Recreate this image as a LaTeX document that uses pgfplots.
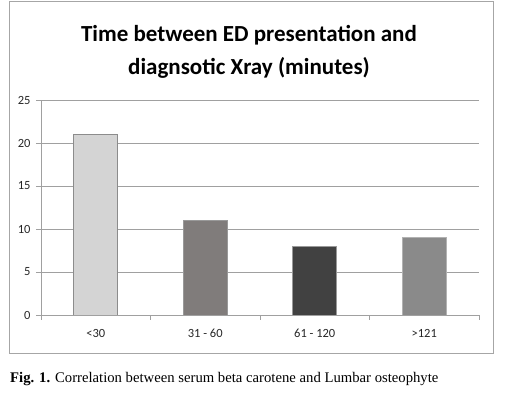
\documentclass[border=0pt]{standalone}
\usepackage{pgfplots}
\pgfplotsset{compat=1.18}
\usepackage{fontspec}
\setmainfont{Carlito}
\newfontfamily\timesfont{Liberation Serif}
\definecolor{barA}{HTML}{D4D4D4}
\definecolor{barB}{HTML}{807C7B}
\definecolor{barC}{HTML}{414141}
\definecolor{barD}{HTML}{8A8A8A}
\definecolor{gridc}{HTML}{A0A0A0}
\begin{document}
\begin{tikzpicture}[x=1pt,y=1pt]
\path[use as bounding box] (0,0) rectangle (506,393);
\draw[gray!70, line width=0.8pt] (9.5,393-353) rectangle (493,391.5);
\node[font=\fontsize{23}{33}\selectfont\bfseries, align=center] at (249,393-52) {Time between ED presentation and\\diagnsotic Xray (minutes)};
\begin{axis}[
  at={(41pt,78pt)}, anchor=south west,
  scale only axis, width=438pt, height=215pt,
  xmin=-0.5, xmax=3.5, ymin=0, ymax=25,
  ytick={0,5,...,25},
  xtick={0,1,2,3},
  xticklabels={{<30},{31 - 60},{61 - 120},{>121}},
  minor xtick={-0.5,0.5,1.5,2.5,3.5},
  major x tick style={draw=none},
  tick align=outside,
  major tick length=5pt, minor tick length=5pt,
  tick style={gridc, line width=0.8pt},
  axis x line*=bottom, axis y line*=left,
  axis line style={gridc, line width=0.8pt, -},
  ymajorgrids, grid style={gridc, line width=0.8pt},
  /pgf/number format/assume math mode=true,
  tick label style={font=\fontsize{12.5}{14}\selectfont, text=black!85},
  xticklabel style={yshift=-6pt},
  yticklabel style={xshift=-2pt},
  bar width=44pt,
  ybar, bar shift=0pt,
]
\addplot[fill=barA, draw=black!45, line width=0.6pt] coordinates {(0,21)};
\addplot[fill=barB, draw=black!40, line width=0.6pt] coordinates {(1,11)};
\addplot[fill=barC, draw=black!40, line width=0.6pt] coordinates {(2,8)};
\addplot[fill=barD, draw=black!30, line width=0.6pt] coordinates {(3,9)};
\end{axis}
\node[anchor=base west, font=\timesfont\fontsize{14.7}{17}\selectfont, inner sep=0pt] at (10,393-383) {\textbf{Fig. 1.} Correlation between serum beta carotene and Lumbar osteophyte};
\end{tikzpicture}
\end{document}
